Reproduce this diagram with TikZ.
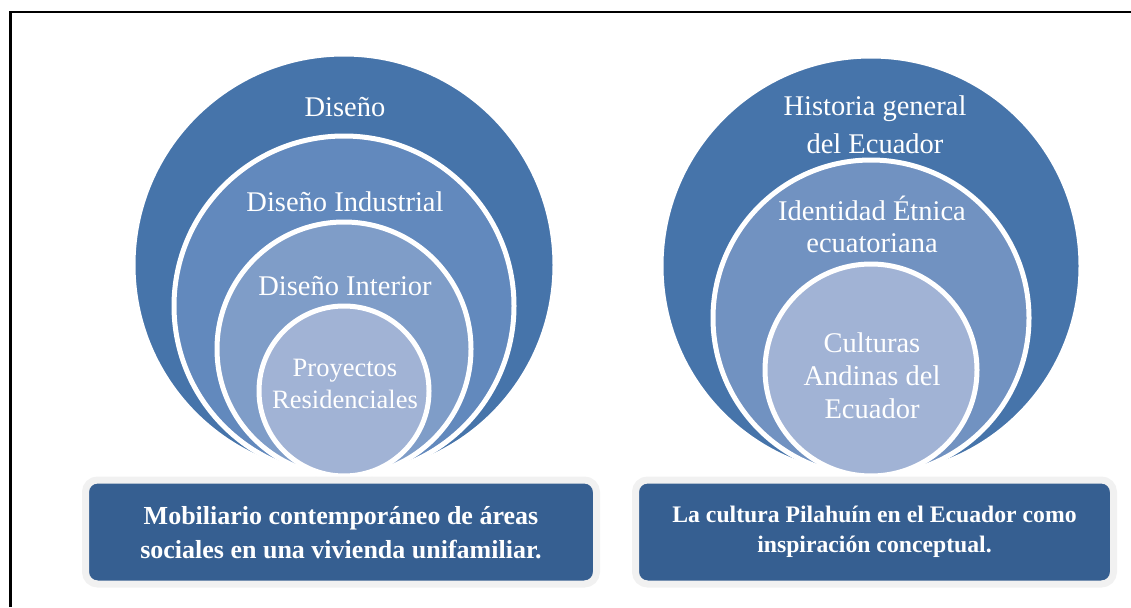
\documentclass[tikz,border=0pt]{standalone}
\usepackage{fontspec}
\setmainfont{Liberation Serif}
\definecolor{cA}{RGB}{70,116,170}
\definecolor{cB}{RGB}{98,137,189}
\definecolor{cC}{RGB}{127,157,200}
\definecolor{cD}{RGB}{161,179,213}
\definecolor{cE}{RGB}{113,146,193}
\definecolor{boxblue}{RGB}{54,95,145}
\definecolor{boxgray}{RGB}{241,241,241}
\tikzset{
  ring/.style={draw=white, line width=5pt},
  lbl/.style={text=white, align=center, inner sep=0pt, anchor=base},
  box/.style={fill=boxblue, draw=boxgray, line width=7pt, rounded corners=12pt},
  boxtxt/.style={text=white, align=center, inner sep=0pt, anchor=base, font=\bfseries},
}
\begin{document}
\begin{tikzpicture}[x=1pt, y=-1pt]
\useasboundingbox (0,0) rectangle (1131,607);
% frame
\draw[line width=2.5pt] (10.5,607) -- (10.5,12) -- (1131,12);
% left group
\fill[cA, ring] (344,265) circle[radius=211];
\fill[cB, ring] (344,306) circle[radius=170];
\fill[cC, ring] (344,349) circle[radius=127];
\fill[cD, ring] (344,391) circle[radius=85];
\node[lbl, font=\fontsize{28.5}{32}\selectfont] (l1) at (345,117) {Diseño};
\node[lbl, font=\fontsize{28.5}{32}\selectfont] (l2) at (345,211) {Diseño Industrial};
\node[lbl, font=\fontsize{28.5}{32}\selectfont] (l3) at (345,295) {Diseño Interior};
\node[lbl, font=\fontsize{26.5}{31.5}\selectfont] (l4) at (345,408) {Proyectos\\Residenciales};
% right group
\fill[cA, ring] (871,266) circle[radius=210];
\fill[cE, ring] (871,318) circle[radius=158];
\fill[cD, ring] (871,370) circle[radius=106];
\node[lbl, font=\fontsize{28.5}{38}\selectfont] (r1) at (875,153) {Historia general\\del Ecuador};
\node[lbl, font=\fontsize{28.5}{32}\selectfont] (r2) at (872,252) {Identidad Étnica\\ecuatoriana};
\node[lbl, font=\fontsize{28.5}{33}\selectfont] (r3) at (872,418) {Culturas\\Andinas del\\Ecuador};
% boxes
\draw[box] (85.5,480) rectangle (596.5,584);
\draw[box] (635.5,480) rectangle (1113.5,584);
\node[boxtxt, font=\bfseries\fontsize{26}{34}\selectfont] (bl) at (341,558) {Mobiliario contemporáneo de áreas\\sociales en una vivienda unifamiliar.};
\node[boxtxt, font=\bfseries\fontsize{23.7}{29.5}\selectfont] (br) at (874.5,552) {La cultura Pilahuín en el Ecuador como\\inspiración conceptual.};
\end{tikzpicture}
\end{document}
